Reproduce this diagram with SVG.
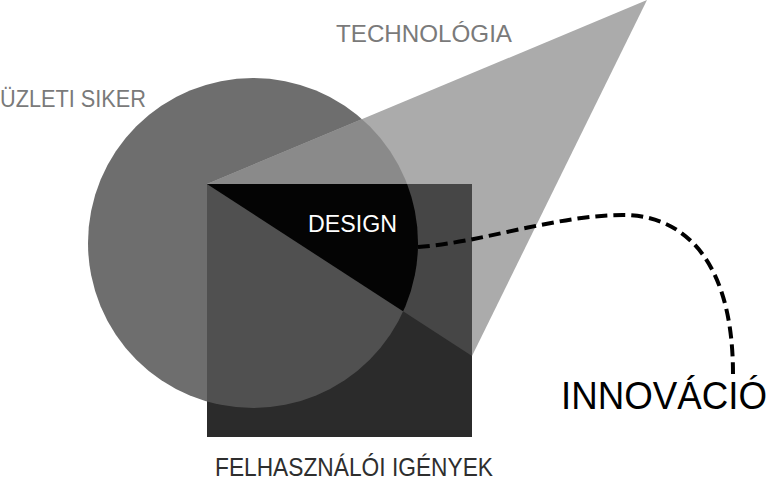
<svg xmlns="http://www.w3.org/2000/svg" width="774" height="480" viewBox="0 0 774 480">
<style>
.lbl{font-family:"Liberation Sans","Noto Sans",Arial,sans-serif;}
.gray{fill:#7a7a7a;}
.dark{fill:#2e2e2e;}
</style>
<defs>
<clipPath id="cCircle"><circle cx="253" cy="243" r="165"/></clipPath>
<clipPath id="cSquare"><rect x="207" y="184" width="265" height="253"/></clipPath>
<clipPath id="cTri"><polygon points="207,184 647,0 472,356"/></clipPath>
</defs>
<rect width="774" height="480" fill="#ffffff"/>
<g id="uzleti-siker">
<circle cx="253" cy="243" r="165" fill="#6e6e6e"/>
<text class="lbl gray" x="0" y="107" font-size="24" textLength="146" lengthAdjust="spacingAndGlyphs">ÜZLETI SIKER</text>
</g>
<g id="technologia">
<polygon points="207,184 647,0 472,356" fill="#ababab"/>
<polygon points="207,184 647,0 472,356" fill="#8a8a8a" clip-path="url(#cCircle)"/>
<text class="lbl gray" x="336" y="42" font-size="24" textLength="176" lengthAdjust="spacingAndGlyphs">TECHNOLÓGIA</text>
</g>
<g id="felhasznaloi-igenyek">
<rect x="207" y="184" width="265" height="253" fill="#2b2b2b"/>
<circle cx="253" cy="243" r="165" fill="#505050" clip-path="url(#cSquare)"/>
<polygon points="207,184 647,0 472,356" fill="#464646" clip-path="url(#cSquare)"/>
<text class="lbl dark" x="215" y="476" font-size="25" textLength="278" lengthAdjust="spacingAndGlyphs">FELHASZNÁLÓI IGÉNYEK</text>
</g>
<g id="design">
<g clip-path="url(#cSquare)">
<circle cx="253" cy="243" r="165" fill="#040404" clip-path="url(#cTri)"/>
</g>
<text class="lbl" x="308" y="232" font-size="23" fill="#ffffff" textLength="89" lengthAdjust="spacingAndGlyphs">DESIGN</text>
</g>
<g id="connectors">
<path d="M418,247 C480,243 560,214 626,215 C690,217 733,268 733,374" fill="none" stroke="#000" stroke-width="4" stroke-dasharray="12,6"/>
</g>
<g id="innovacio">
<text class="lbl" x="561" y="409" font-size="38" fill="#000" textLength="206" lengthAdjust="spacingAndGlyphs">INNOVÁCIÓ</text>
</g>
</svg>
